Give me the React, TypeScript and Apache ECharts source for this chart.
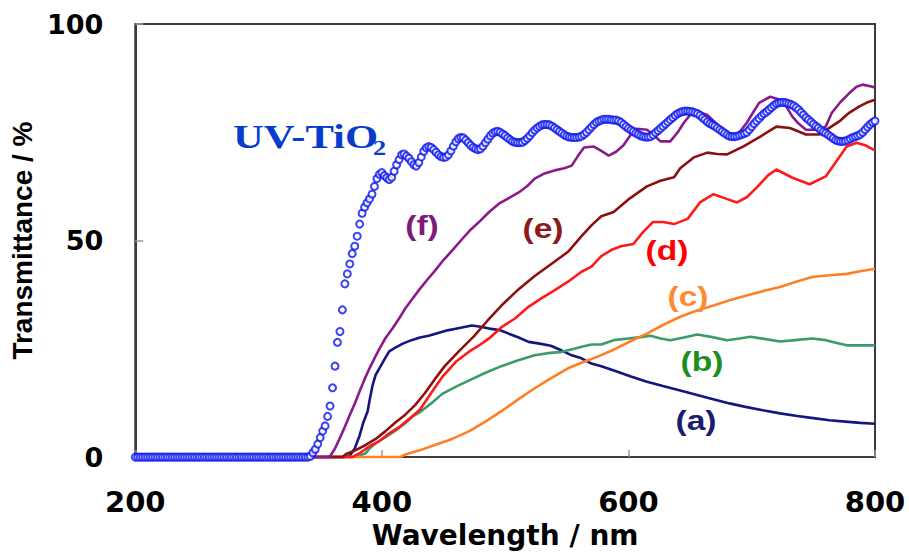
import React, { useEffect, useRef } from "react";
import * as echarts from "echarts";

// UV-TiO2 reference film: transmittance (%) sampled every 2 nm from 200 nm
const UV_START_NM = 200;
const UV_STEP_NM = 2;
const uvTiO2 = [
  0, 0, 0, 0, 0, 0, 0, 0, 0, 0,
  0, 0, 0, 0, 0, 0, 0, 0, 0, 0,
  0, 0, 0, 0, 0, 0, 0, 0, 0, 0,
  0, 0, 0, 0, 0, 0, 0, 0, 0, 0,
  0, 0, 0, 0, 0, 0, 0, 0, 0, 0,
  0, 0, 0, 0, 0, 0, 0, 0, 0, 0,
  0, 0, 0, 0, 0, 0, 0, 0, 0, 0,
  0, 0.2, 1, 1.8, 3, 4.5, 6, 7.2, 9.4, 11.8,
  16, 21, 26.5, 29, 34, 40, 42.3, 44.6, 47, 48.7,
  51, 53.8, 56.3, 57.7, 58.7, 59.6, 60.7, 62.5, 64.3, 65.3,
  65.7, 65, 64.5, 64.1, 64.6, 66, 67.5, 68.7, 69.8, 70,
  69.5, 69, 68.2, 67.5, 67.2, 68, 69.3, 70.6, 71.4, 71.7,
  71.5, 71, 70.4, 69.8, 69.4, 69.2, 69.3, 69.8, 70.7, 71.8,
  72.8, 73.5, 73.8, 73.7, 73.2, 72.6, 72, 71.5, 71.2, 71,
  71.2, 71.8, 72.6, 73.4, 74.2, 74.8, 75.1, 75.2, 75, 74.6,
  74.2, 73.7, 73.3, 72.9, 72.7, 72.6, 72.6, 72.7, 73.1, 73.6,
  74.2, 74.9, 75.5, 76, 76.4, 76.7, 76.8, 76.8, 76.7, 76.4,
  76, 75.6, 75.2, 74.8, 74.4, 74.1, 73.9, 73.8, 73.8, 73.8,
  73.9, 74.1, 74.5, 75, 75.6, 76.2, 76.8, 77.3, 77.6, 77.8,
  78, 78, 78, 77.9, 77.8, 77.8, 77.6, 77.3, 76.8, 76.3,
  75.9, 75.5, 75.2, 74.8, 74.5, 74.2, 74, 73.9, 73.9, 74,
  74.4, 74.9, 75.4, 75.9, 76.4, 76.9, 77.4, 77.9, 78.4, 78.9,
  79.3, 79.6, 79.8, 79.9, 79.9, 79.8, 79.7, 79.5, 79.3, 78.9,
  78.4, 77.9, 77.4, 77, 76.7, 76.4, 76, 75.6, 75.2, 74.8,
  74.4, 74.1, 74, 74, 74.1, 74.3, 74.5, 74.7, 75, 75.6,
  76.3, 77, 77.6, 78.2, 78.8, 79.3, 79.7, 80.2, 80.7, 81.2,
  81.6, 81.8, 81.9, 81.9, 81.8, 81.6, 81.4, 81.1, 80.7, 80.2,
  79.6, 79, 78.4, 77.9, 77.4, 76.9, 76.4, 76, 75.5, 75.1,
  74.8, 74.4, 74, 73.6, 73.2, 73, 72.9, 72.9, 73, 73.2,
  73.5, 73.8, 74, 74.2, 74.5, 75, 75.6, 76.2, 76.8, 77.3,
  77.6,
];

// Samples (a)–(f): [wavelength nm, transmittance %]
const sampleA: [number, number][] = [
  [300, 0], [370, 0], [374, 0.3], [378, 2], [382, 5], [385, 8], [388.5, 10.6], [390, 13],
  [392.5, 16.6], [395, 19], [398, 20.5], [402, 22.5], [406, 24.4], [411, 25.3], [417, 26.2],
  [424, 27], [431, 27.6], [438, 28], [445, 28.6], [452, 29.2], [459, 29.6], [466, 30],
  [473, 30.4], [480, 30.1], [489, 29.6], [496, 29.3], [503, 28.5], [511, 27.6], [519, 26.6],
  [528, 26.2], [537, 25.7], [546, 24.6], [554, 23.5], [562, 22.8], [570, 21.6], [578, 21],
  [590, 19.8], [602, 18.6], [615, 17.4], [628, 16.4], [642, 15.4], [655, 14.4], [668, 13.4],
  [682, 12.4], [695, 11.6], [709, 10.8], [723, 10.1], [737, 9.5], [750, 9], [763, 8.5],
  [776, 8.2], [788, 7.9], [800, 7.7],
];

const sampleB: [number, number][] = [
  [300, 0], [376, 0], [382, 0.4], [387, 0.9], [390, 2], [395, 3.2], [403, 4.6], [412, 6.3],
  [419, 7.8], [425, 9.4], [431, 10.4], [440, 12.4], [449, 14.6], [461, 16.4], [473, 18],
  [485, 19.6], [497, 21], [510, 22.3], [524, 23.5], [535, 24], [546, 24.3], [556, 25],
  [562, 25.5], [570, 26], [578, 26], [588, 27], [600, 27.4], [610, 27.7], [618, 28],
  [626, 27.4], [634, 27], [645, 27.6], [656, 28.3], [668, 27.7], [680, 27], [690, 27.4],
  [699, 27.8], [710, 27.3], [723, 26.7], [735, 27], [749, 27.4], [760, 27], [770, 26.3],
  [777, 25.8], [788, 25.8], [800, 25.8],
];

const sampleC: [number, number][] = [
  [300, 0], [415, 0], [419, 0.6], [430, 1.5], [443, 2.8], [457, 4.2], [471, 6], [484, 8.2],
  [497, 10.6], [510, 13.2], [524, 15.9], [537, 18.2], [551, 20.5], [562, 21.8], [575, 23.2],
  [588, 24.8], [602, 26.8], [615, 28.5], [628, 30.5], [642, 32.4], [655, 33.8], [669, 35],
  [682, 36.2], [696, 37.3], [710, 38.4], [723, 39.3], [736, 40.5], [749, 41.6], [763, 42],
  [777, 42.3], [788, 42.9], [800, 43.5],
];

const sampleD: [number, number][] = [
  [300, 0], [376, 0], [382, 0.9], [390, 2.5], [398, 3.7], [406, 5.5], [414, 6.9], [425, 9.5],
  [431, 11], [440, 14.8], [449, 18.5], [460, 22], [471, 24.4], [480, 26], [487, 27.4],
  [497, 30], [508, 32], [518, 34.5], [529, 36.6], [540, 38.5], [551, 40.5], [562, 42.8],
  [570, 44], [578, 46.4], [586, 47.8], [594, 48.7], [604, 49.2], [612, 52], [620, 54.3],
  [628, 54.3], [637, 53.8], [648, 55], [658, 58.8], [669, 60.7], [678, 59.8], [688, 58.8],
  [696, 60], [705, 62.5], [713, 65], [720, 66.4], [733, 64.5], [747, 63], [760, 64.8],
  [768, 68], [777, 71.7], [785, 72.6], [792, 72], [800, 70.8],
];

const sampleE: [number, number][] = [
  [300, 0], [368, 0], [371, 0.7], [378, 1.5], [387, 2.8], [395, 4.2], [403, 6], [411, 8],
  [419, 9.8], [427, 12], [435, 14.8], [443, 18], [451, 21], [463, 24.6], [475, 28],
  [486, 31.6], [497, 35], [510, 38.5], [524, 41.8], [538, 44.7], [551, 47.4], [562, 51],
  [570, 53.5], [578, 55.6], [588, 56.6], [600, 59.5], [615, 62.5], [626, 63.8], [637, 64.6],
  [642, 66.7], [653, 69.2], [664, 70.3], [672, 70], [680, 69.9], [693, 71.7], [707, 74],
  [720, 76.3], [731, 76], [744, 74.5], [755, 74.5], [763, 76], [771, 77.5], [779, 79.5],
  [787, 80.9], [793, 81.8], [800, 82.5],
];

const sampleF: [number, number][] = [
  [300, 0], [356, 0], [358, 0.2], [362, 2], [366, 4.4], [370, 7], [374, 9.7], [378, 12.3],
  [382, 15.2], [386, 18], [390, 20.5], [394, 22.8], [398, 25], [403, 27.5], [408.6, 29.7],
  [414, 32], [419, 34.3], [425, 36.6], [431, 38.9], [437, 41], [443, 43], [450, 45.5],
  [458, 48], [465, 50.3], [472, 52.5], [480, 54.6], [487, 56.6], [495, 58.5], [503, 59.8],
  [511, 61.1], [518, 62.6], [524, 64.3], [532, 65.5], [540, 66.2], [548, 66.7], [554, 67.3],
  [559, 69.5], [564, 71.5], [572, 71.7], [578, 70.7], [584, 69.6], [590, 70.5], [596, 72],
  [602, 74.5], [607, 75.8], [615, 75.6], [620, 74.5], [626, 72.9], [634, 72.9], [640, 75],
  [645, 77.2], [650, 79], [656, 79.8], [664, 79], [672, 76.8], [680, 74.5], [685, 73.8],
  [690, 75], [696, 77.2], [701, 79.5], [706, 81.8], [715, 83.2], [723, 82.5], [728, 81],
  [733, 78.6], [738, 77], [744, 75.6], [755, 75.6], [760, 76.3], [765, 79.5], [772, 82],
  [779, 84], [785, 85.5], [790, 86], [798, 85.5], [800, 85.3],
];

const xTicks = { min: 200, max: 800, step: 200 };
const yTicks = { min: 0, max: 100, step: 50 };

const curves = [
  { key: "(a)", data: sampleA, line: "#15157f", text: "#1c1c6e", at: [696, 420] },
  { key: "(b)", data: sampleB, line: "#3a9b6b", text: "#1d8f1d", at: [702, 361] },
  { key: "(c)", data: sampleC, line: "#ff7f27", text: "#ff8a33", at: [688, 296] },
  { key: "(d)", data: sampleD, line: "#ff1a1a", text: "#ff0000", at: [667, 250] },
  { key: "(e)", data: sampleE, line: "#8b1111", text: "#8b1a1a", at: [543, 228] },
  { key: "(f)", data: sampleF, line: "#8b1a8b", text: "#7b1e7b", at: [422, 225] },
];

const BLUE = "#0a14f0";
const TEXT_BLUE = "#0a3ccc";

export default function App() {
  const ref = useRef<HTMLDivElement>(null);

  useEffect(() => {
    if (!ref.current) return;
    const chart = echarts.init(ref.current, undefined, { renderer: "svg" });

    const uvPoints = uvTiO2.map((t, i) => [UV_START_NM + i * UV_STEP_NM, t]);

    const labelText = curves.map((c) => ({
      type: "text",
      x: c.at[0],
      y: c.at[1],
      scaleX: 1.2,
      z: 10,
      style: {
        text: c.key,
        fill: c.text,
        fontFamily: "Liberation Sans, Arial, sans-serif",
        fontWeight: "bold",
        fontSize: 28,
        align: "center",
        verticalAlign: "middle",
      },
    }));

    chart.setOption({
      animation: false,
      backgroundColor: "#ffffff",
      grid: {
        left: 131,
        right: 34,
        top: 24,
        bottom: 95,
        show: true,
        borderColor: "#3c3c3c",
        borderWidth: 2,
        backgroundColor: "transparent",
      },
      xAxis: {
        type: "value",
        min: xTicks.min,
        max: xTicks.max,
        interval: xTicks.step,
        name: "Wavelength / nm",
        nameLocation: "middle",
        nameGap: 60,
        nameTextStyle: {
          fontFamily: "DejaVu Sans, sans-serif",
          fontWeight: "bold",
          fontSize: 28,
          color: "#000",
        },
        axisLine: { show: true, lineStyle: { color: "#3c3c3c", width: 2 } },
        axisTick: { show: true, inside: true, length: 7, lineStyle: { color: "#9a9a9a", width: 1.5 } },
        axisLabel: {
          margin: 30,
          fontFamily: "DejaVu Sans, sans-serif",
          fontWeight: "bold",
          fontSize: 29,
          color: "#000",
        },
        splitLine: { show: false },
      },
      yAxis: {
        type: "value",
        min: yTicks.min,
        max: yTicks.max,
        interval: yTicks.step,
        name: "Transmittance / %",
        nameLocation: "middle",
        nameRotate: 90,
        nameGap: 85,
        nameTextStyle: {
          fontFamily: "Liberation Sans, Arial, sans-serif",
          fontWeight: "bold",
          fontSize: 28,
          color: "#000",
        },
        axisLine: { show: true, lineStyle: { color: "#3c3c3c", width: 2 } },
        axisTick: { show: true, inside: true, length: 8, lineStyle: { color: "#9a9a9a", width: 1.5 } },
        axisLabel: {
          margin: 32,
          fontFamily: "DejaVu Sans, sans-serif",
          fontWeight: "bold",
          fontSize: 27,
          color: "#000",
        },
        splitLine: { show: false },
      },
      series: [
        ...curves.map((c) => ({
          name: c.key,
          type: "line",
          data: c.data,
          showSymbol: false,
          lineStyle: { color: c.line, width: 2.6 },
          itemStyle: { color: c.line },
          z: 2,
        })),
        {
          name: "UV-TiO2",
          type: "scatter",
          data: uvPoints,
          symbol: "emptyCircle",
          symbolSize: 7,
          itemStyle: { color: BLUE, borderColor: BLUE, borderWidth: 1.9 },
          z: 3,
        },
      ],
      graphic: [
        {
          type: "text",
          x: 233,
          y: 137,
          scaleX: 1.29,
          z: 10,
          style: {
            text: "UV-TiO",
            fill: TEXT_BLUE,
            fontFamily: "Liberation Serif, Times New Roman, serif",
            fontWeight: "bold",
            fontSize: 33,
            align: "left",
            verticalAlign: "middle",
          },
        },
        {
          type: "text",
          x: 373,
          y: 147,
          scaleX: 1.2,
          z: 10,
          style: {
            text: "2",
            fill: TEXT_BLUE,
            fontFamily: "Liberation Serif, Times New Roman, serif",
            fontWeight: "bold",
            fontSize: 22,
            align: "left",
            verticalAlign: "middle",
          },
        },
        ...labelText,
      ],
    });

    return () => chart.dispose();
  }, []);

  return (
    <div
      ref={ref}
      style={{ position: "fixed", left: 0, top: 0, width: 909, height: 554, background: "#fff" }}
    />
  );
}
